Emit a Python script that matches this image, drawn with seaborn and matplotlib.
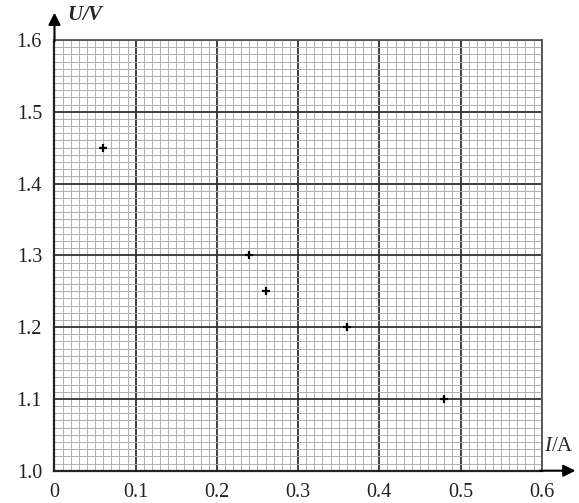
import numpy as np
import pandas as pd
import seaborn as sns
import matplotlib.pyplot as plt
from matplotlib.ticker import MultipleLocator

# measured points (I in A, U in V)
current = [0.06, 0.24, 0.26, 0.36, 0.48]
voltage = [1.45, 1.30, 1.25, 1.20, 1.10]
x_ticks = [0, 0.1, 0.2, 0.3, 0.4, 0.5, 0.6]
x_labels = ['0', '0.1', '0.2', '0.3', '0.4', '0.5', '0.6']
y_ticks = [1.0, 1.1, 1.2, 1.3, 1.4, 1.5, 1.6]
y_labels = ['1.0', '1.1', '1.2', '1.3', '1.4', '1.5', '1.6']

sns.set_style('white')
plt.rcParams['font.family'] = ['Liberation Serif', 'DejaVu Serif']
plt.rcParams['mathtext.fontset'] = 'custom'
plt.rcParams['mathtext.rm'] = 'Liberation Serif'
plt.rcParams['mathtext.it'] = 'Liberation Serif:italic'
plt.rcParams['mathtext.bf'] = 'Liberation Serif:bold:italic'

df = pd.DataFrame({'I': current, 'U': voltage})

fig = plt.figure(figsize=(5.79, 5.03), dpi=100)
ax = fig.add_axes([0.0941, 0.0642, 0.8415, 0.8563])

# graph paper grid
ax.xaxis.set_minor_locator(MultipleLocator(0.01))
ax.yaxis.set_minor_locator(MultipleLocator(0.01))
ax.grid(which='minor', color='#b0b0b0', linewidth=0.7)
ax.grid(which='major', color='#303030', linewidth=1.3)
ax.set_axisbelow(True)

sns.scatterplot(data=df, x='I', y='U', marker='+', color='black', s=36,
                linewidth=1.6, ax=ax, zorder=5)

ax.set_xlim(0, 0.6)
ax.set_ylim(1.0, 1.6)
ax.set_xticks(x_ticks)
ax.set_xticklabels(x_labels)
ax.set_yticks(y_ticks)
ax.set_yticklabels(y_labels)
ax.tick_params(which='both', length=0, labelsize=14.5, colors='#222222')
ax.tick_params(axis='x', pad=9)
ax.tick_params(axis='y', pad=9)
ax.set_xlabel('')
ax.set_ylabel('')

for side in ['top', 'right']:
    ax.spines[side].set_color('#555555')
    ax.spines[side].set_linewidth(1.3)
for side in ['left', 'bottom']:
    ax.spines[side].set_color('#222222')
    ax.spines[side].set_linewidth(1.6)

# axis arrows
ax.annotate('', xy=(0, 1.07), xytext=(0, 0.99), xycoords='axes fraction',
            arrowprops=dict(arrowstyle='-|>', color='black', lw=1.5,
                            mutation_scale=18), annotation_clip=False)
ax.annotate('', xy=(1.075, 0), xytext=(0.99, 0), xycoords='axes fraction',
            arrowprops=dict(arrowstyle='-|>', color='black', lw=1.5,
                            mutation_scale=18), annotation_clip=False)

ax.text(0.025, 1.058, r'$\mathbf{U/V}$', transform=ax.transAxes,
        fontsize=15, ha='left', va='center')
ax.text(1.005, 0.033, r'$I$/A', transform=ax.transAxes,
        fontsize=15, ha='left', va='bottom')

fig.savefig('out.png', dpi=100)
